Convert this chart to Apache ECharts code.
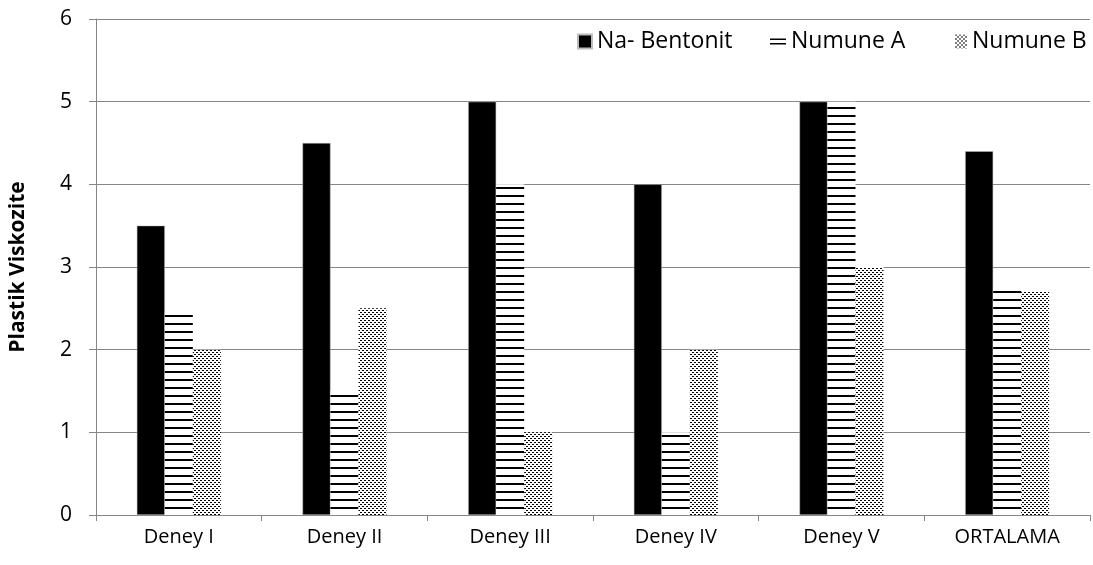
<!DOCTYPE html>
<html><head><meta charset="utf-8">
<script src="https://cdn.jsdelivr.net/npm/echarts@6/dist/echarts.min.js"></script>
<style>html,body{margin:0;padding:0;background:#fff}#c{width:1093px;height:565px}</style>
</head><body><div id="c"></div>
<script>
const categories = ['Deney I', 'Deney II', 'Deney III', 'Deney IV', 'Deney V', 'ORTALAMA'];
const seriesNames = ['Na- Bentonit', 'Numune A', 'Numune B'];
const naBentonit = [3.5, 4.5, 5, 4, 5, 4.4];
const numuneA = [2.45, 1.5, 4, 1, 5, 2.75];
const numuneB = [2, 2.5, 1, 2, 3, 2.7];
const yTicks = [0, 1, 2, 3, 4, 5, 6];

function linePattern() {
  const c = document.createElement('canvas');
  c.width = 8; c.height = 8;
  const g = c.getContext('2d');
  g.fillStyle = '#fff'; g.fillRect(0, 0, 8, 8);
  g.fillStyle = '#000'; g.fillRect(0, 3, 8, 2);
  return c;
}
function dotPattern() {
  const c = document.createElement('canvas');
  c.width = 4; c.height = 4;
  const g = c.getContext('2d');
  g.fillStyle = '#fff'; g.fillRect(0, 0, 4, 4);
  g.fillStyle = '#000';
  g.fillRect(0, 0, 2, 1);
  g.fillRect(2, 2, 2, 1);
  return c;
}

const chart = echarts.init(document.getElementById('c'), null, {renderer: 'canvas'});
const font = '"Open Sans", "Noto Sans", sans-serif';
const legendText = {fontSize: 23, color: '#000', fontFamily: font};
chart.setOption({
  animation: false,
  textStyle: {fontFamily: font},
  grid: {left: 95, right: 3, top: 19, bottom: 50},
  legend: [
    {left: 572, top: 25, itemWidth: 14, itemHeight: 14, icon: 'rect', textStyle: legendText, data: [seriesNames[0]]},
    {left: 765, top: 25, itemWidth: 16, itemHeight: 6, textStyle: legendText,
     data: [{name: seriesNames[1], icon: 'path://M0,0h16v1.4h-16z M0,4.6h16v1.4h-16z', itemStyle: {color: '#000'}}]},
    {left: 950, top: 25, itemWidth: 12, itemHeight: 14, icon: 'rect', textStyle: legendText, data: [seriesNames[2]]}
  ],
  xAxis: {
    type: 'category', data: categories,
    axisLine: {lineStyle: {color: '#868686', width: 1}},
    axisTick: {show: true, alignWithLabel: false, length: 6, lineStyle: {color: '#868686'}},
    axisLabel: {fontSize: 20, color: '#000', margin: 12, fontFamily: font}
  },
  yAxis: {
    type: 'value', min: yTicks[0], max: yTicks[yTicks.length - 1], interval: 1,
    name: 'Plastik Viskozite', nameLocation: 'middle', nameGap: 67,
    nameTextStyle: {fontSize: 21, fontWeight: 'bold', color: '#000', fontFamily: font},
    axisLine: {show: true, lineStyle: {color: '#868686'}},
    axisTick: {show: true, length: 7, inside: false, lineStyle: {color: '#868686'}},
    splitLine: {lineStyle: {color: '#868686', width: 1}},
    axisLabel: {fontSize: 21, color: '#000', margin: 24, fontFamily: font}
  },
  series: [
    {name: seriesNames[0], type: 'bar', data: naBentonit, barWidth: 28, barGap: '0%',
     itemStyle: {color: '#000', borderColor: '#bbb', borderWidth: 0.5}},
    {name: seriesNames[1], type: 'bar', data: numuneA, barWidth: 28, barGap: '0%',
     itemStyle: {color: {image: linePattern(), repeat: 'repeat'}}},
    {name: seriesNames[2], type: 'bar', data: numuneB, barWidth: 28, barGap: '0%',
     itemStyle: {color: {image: dotPattern(), repeat: 'repeat'}}}
  ]
});
</script></body></html>
